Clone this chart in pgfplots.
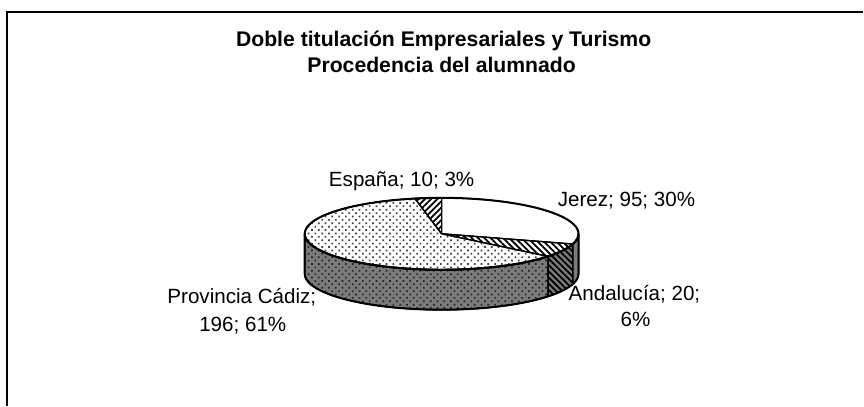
\documentclass[border=0pt]{standalone}
\usepackage{pgfplots}
\pgfplotsset{compat=1.18}
\usepackage{fontspec}
\setmainfont{Liberation Sans}
\usetikzlibrary{patterns,patterns.meta}

% data
\def\vJ{95}\def\vA{20}\def\vP{196}\def\vE{10}
\pgfmathsetmacro{\tot}{\vJ+\vA+\vP+\vE}
\pgfmathsetmacro{\aJ}{\vJ/\tot*360}
\pgfmathsetmacro{\aA}{(\vJ+\vA)/\tot*360}
\pgfmathsetmacro{\aP}{(\vJ+\vA+\vP)/\tot*360}

% geometry (pixel units)
\def\cx{442}\def\cy{172}\def\rx{137}\def\ry{36}\def\dep{40}

\newcommand{\topslice}[3]{%
 \addplot[#1, samples at={-1,0,1,...,60,61}, variable=\t]
  ({\cx+\rx*(\t>-0.5)*(\t<60.5)*sin(#2+(\t/60)*(#3-#2))},
   {\cy+\ry*(\t>-0.5)*(\t<60.5)*cos(#2+(\t/60)*(#3-#2))});
}
\newcommand{\sideface}[3]{%
 \addplot[#1, samples at={0,1,...,60,100,101,...,160,200}, variable=\t]
  ({\cx+\rx*sin((\t<80)*(#2+(\t/60)*(#3-#2)) + (\t>80)*(\t<180)*(#3-((\t-100)/60)*(#3-#2)) + (\t>180)*(#2))},
   {\cy+\ry*cos((\t<80)*(#2+(\t/60)*(#3-#2)) + (\t>80)*(\t<180)*(#3-((\t-100)/60)*(#3-#2)) + (\t>180)*(#2)) - (\t>80)*(\t<180)*\dep});
}

\begin{document}
\begin{tikzpicture}
\begin{axis}[
  scale only axis, width=432pt, height=203pt,
  xmin=0, xmax=864, ymin=0, ymax=406,
  hide axis, clip=false,
]
\addplot[draw=none] coordinates {(0,0) (864,406)};
% frame
\addplot[black, line width=0.75pt, line cap=butt] coordinates {(7,0) (7,394) (864,394)};

% side faces
\sideface{draw=black, line width=0.6pt, fill=gray!85!black!90}{90}{\aJ}
\sideface{draw=black, line width=0.6pt, fill=gray!85!black!90, postaction={pattern={Lines[angle=-45,distance=2.2pt,line width=0.9pt]}, pattern color=black}}{\aJ}{\aA}
\sideface{draw=black, line width=0.6pt, fill=gray!85!black!90, postaction={pattern={Dots[angle=45,distance=2.4pt,radius=0.6pt]}, pattern color=black!85}}{\aA}{270}

% top faces
\topslice{draw=black, line width=0.6pt, fill=white}{0}{\aJ}
\topslice{draw=black, line width=0.6pt, fill=white, postaction={pattern={Lines[angle=-45,distance=2.2pt,line width=0.9pt]}, pattern color=black}}{\aJ}{\aA}
\topslice{draw=black, line width=0.6pt, fill=white, postaction={pattern={Dots[angle=45,distance=2.4pt,radius=0.6pt]}, pattern color=black!75}}{\aA}{\aP}
\topslice{draw=black, line width=0.6pt, fill=white, postaction={pattern={Lines[angle=45,distance=2.2pt,line width=0.9pt]}, pattern color=black}}{\aP}{360}

% outer outline
\addplot[black, line width=1pt, domain=0:360, samples=121, variable=\t] ({\cx+\rx*sin(\t)},{\cy+\ry*cos(\t)});
\sideface{draw=black, line width=1pt, fill=none}{90}{270}

% title
\node[font=\fontsize{10.6pt}{13pt}\selectfont\bfseries, anchor=base] at (axis cs:444,359) {Doble titulación Empresariales y Turismo};
\node[font=\fontsize{10.6pt}{13pt}\selectfont\bfseries, anchor=base] at (axis cs:442,333) {Procedencia del alumnado};

% labels
\node[font=\fontsize{10.3pt}{13pt}\selectfont, anchor=base] at (axis cs:402,219) {España; 10; 3\%};
\node[font=\fontsize{10.3pt}{13pt}\selectfont, anchor=base] at (axis cs:627,199) {Jerez; 95; 30\%};
\node[font=\fontsize{10.3pt}{13pt}\selectfont, anchor=base] at (axis cs:635,105) {Andalucía; 20;};
\node[font=\fontsize{10.3pt}{13pt}\selectfont, anchor=base] at (axis cs:636,79) {6\%};
\node[font=\fontsize{10.3pt}{13pt}\selectfont, anchor=base] at (axis cs:242,102) {Provincia Cádiz;};
\node[font=\fontsize{10.3pt}{13pt}\selectfont, anchor=base] at (axis cs:243,74) {196; 61\%};
\end{axis}
\end{tikzpicture}
\end{document}
